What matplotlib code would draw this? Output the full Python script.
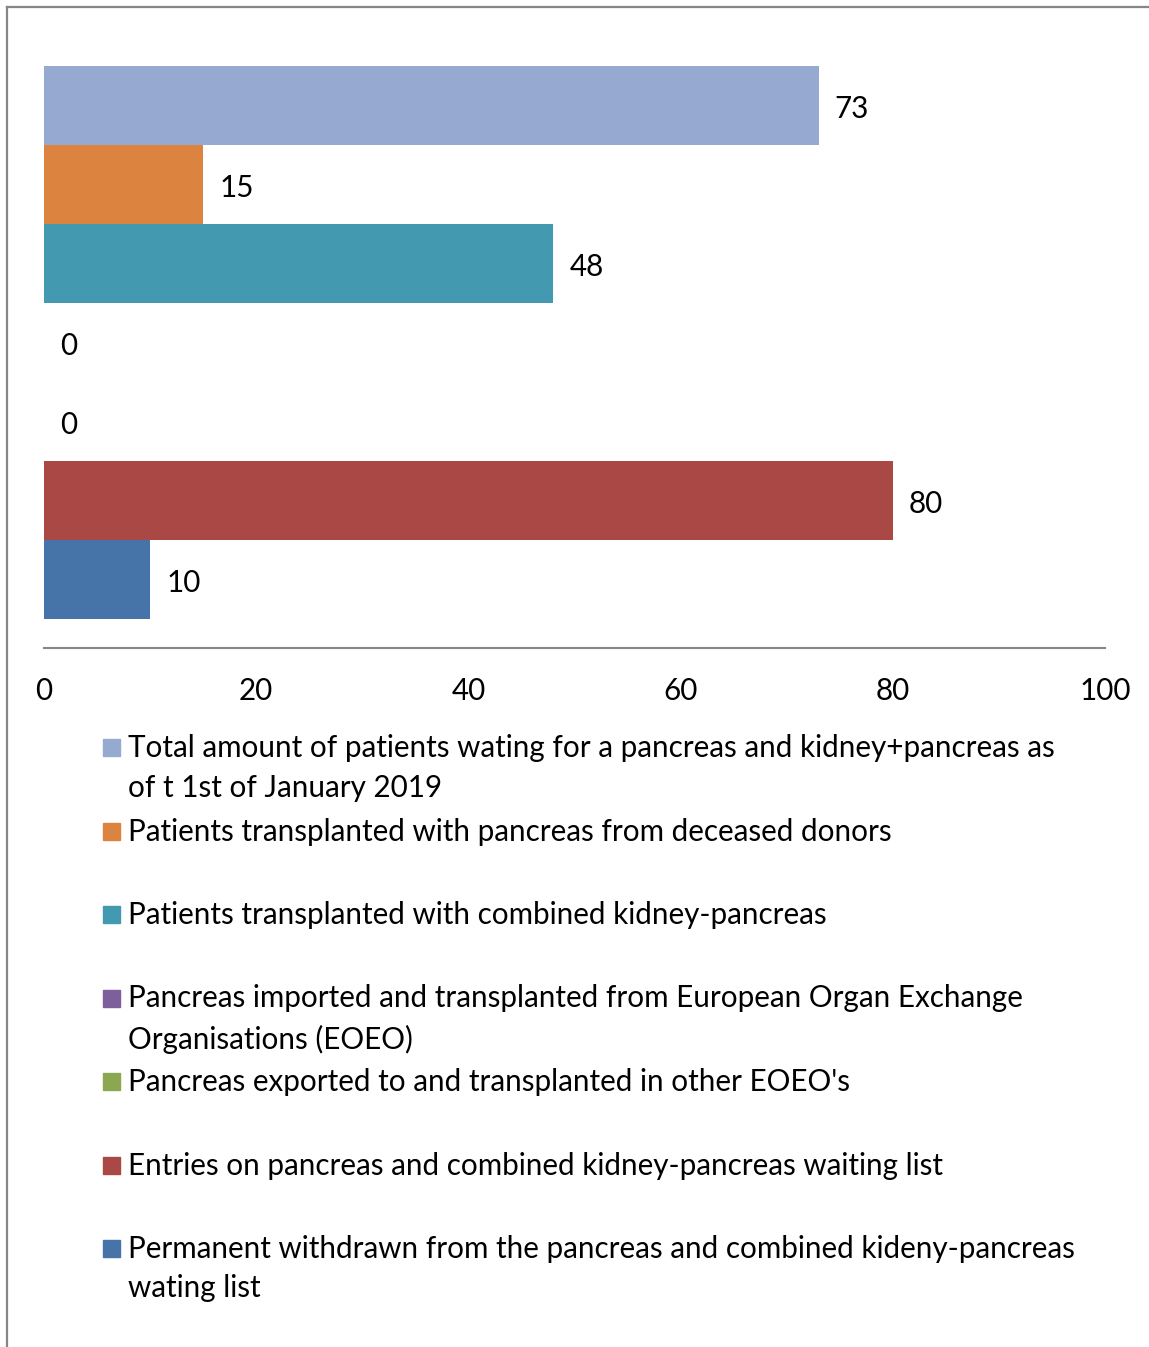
import matplotlib
matplotlib.use('Agg')
import matplotlib.pyplot as plt
from matplotlib.patches import Rectangle
from matplotlib.lines import Line2D

plt.rcParams['font.family'] = ['Lato', 'DejaVu Sans']

# Data
series_labels = [
    "Total amount of patients wating for a pancreas and kidney+pancreas as\nof t 1st of January 2019",
    "Patients transplanted with pancreas from deceased donors",
    "Patients transplanted with combined kidney-pancreas",
    "Pancreas imported and transplanted from European Organ Exchange\nOrganisations (EOEO)",
    "Pancreas exported to and transplanted in other EOEO's",
    "Entries on pancreas and combined kidney-pancreas waiting list",
    "Permanent withdrawn from the pancreas and combined kideny-pancreas\nwating list",
]
values = [73, 15, 48, 0, 0, 80, 10]
colors = ['#95A9D1', '#DC843F', '#4299B0', '#7D5F9B', '#8CA752', '#AA4845', '#4674A8']
xticks = [0, 20, 40, 60, 80, 100]

W, H = 1149, 1347
FS = 21.3
fig = plt.figure(figsize=(W / 100, H / 100), dpi=100)

# outer chart border (left and top edges visible)
fig.add_artist(Line2D([7 / W, 7 / W], [0, 1 - 7 / H], color='#868686', lw=1.6))
fig.add_artist(Line2D([7 / W, 1], [1 - 7 / H, 1 - 7 / H], color='#868686', lw=1.6))

ax = fig.add_axes([44 / W, 1 - 648 / H, 1061 / W, 611 / H])
pos = list(range(len(values)))
ax.barh(pos, values, height=1.0, color=colors)
ax.set_ylim(len(values) - 0.5 + 0.367, -0.5 - 0.367)
ax.set_xlim(0, 100)
ax.set_xticks(xticks)
ax.set_xticklabels([str(t) for t in xticks], fontsize=FS)
ax.tick_params(axis='x', length=0, pad=21)
ax.set_yticks([])
for s in ['top', 'right', 'left']:
    ax.spines[s].set_visible(False)
ax.spines['bottom'].set_color('#868686')
ax.spines['bottom'].set_linewidth(1.5)

for p, v in zip(pos, values):
    ax.annotate(str(v), (v, p), xytext=(11.5, -2.5), textcoords='offset points',
                ha='left', va='center', fontsize=FS)

# legend: equal-height slots, text top aligned
slot_top = 734
slot_h = 83.5
for i, (lab, c) in enumerate(zip(series_labels, colors)):
    y = slot_top + i * slot_h
    fig.add_artist(Rectangle((103 / W, 1 - (y + 22) / H), 17 / W, 17 / H,
                             color=c, transform=fig.transFigure))
    fig.text(128 / W, 1 - y / H, lab, fontsize=FS, va='top', ha='left',
             linespacing=1.5)

fig.savefig('out.png', dpi=100, facecolor='white')
